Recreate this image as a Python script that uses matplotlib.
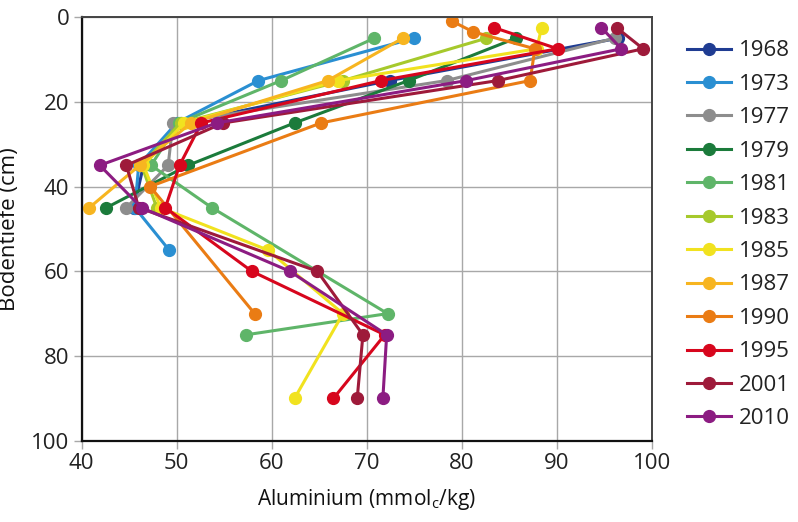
import matplotlib
matplotlib.use("Agg")
import matplotlib.pyplot as plt

plt.rcParams['font.family'] = ['Open Sans', 'DejaVu Sans']

years = ["1968", "1973", "1977", "1979", "1981", "1983",
         "1985", "1987", "1990", "1995", "2001", "2010"]
colors = ["#1f3c92", "#2a8fd2", "#8d8d8d", "#1b7b3b", "#5fb569", "#a6c92c",
          "#f1e21f", "#f7b520", "#ea7c14", "#d7061d", "#9e1a3a", "#8c1c82"]

al_1968 = [96.5, 72.4, 50.5, 46.5, 45.5]
d_1968 = [5, 15, 25, 35, 45]
al_1973 = [75.0, 58.6, 50.0, 46.0, 45.6, 49.2]
d_1973 = [5, 15, 25, 35, 45, 55]
al_1977 = [96.1, 78.4, 49.6, 49.1, 44.7]
d_1977 = [5, 15, 25, 35, 45]
al_1979 = [85.7, 74.4, 62.4, 51.2, 42.6]
d_1979 = [5, 15, 25, 35, 45]
al_1981 = [70.8, 61.0, 50.2, 47.3, 53.7, 72.2, 57.3]
d_1981 = [5, 15, 25, 35, 45, 70, 75]
al_1983 = [82.6, 67.5, 50.4, 46.3, 47.9]
d_1983 = [5, 15, 25, 35, 45]
al_1985 = [88.4, 87.9, 67.0, 50.8, 46.5, 48.3, 59.6, 67.5, 62.4]
d_1985 = [2.5, 7.5, 15, 25, 35, 45, 55, 70, 90]
al_1987 = [73.8, 65.9, 51.5, 46.1, 40.8]
d_1987 = [5, 15, 25, 35, 45]
al_1990 = [79.0, 81.2, 87.7, 87.2, 65.2, 47.2, 58.2]
d_1990 = [1, 3.5, 7.5, 15, 25, 40, 70]
al_1995 = [83.4, 90.1, 71.5, 52.6, 50.3, 48.8, 57.9, 71.9, 66.5]
d_1995 = [2.5, 7.5, 15, 25, 35, 45, 60, 75, 90]
al_2001 = [96.3, 99.1, 83.8, 54.9, 44.7, 46.0, 64.8, 69.6, 69.0]
d_2001 = [2.5, 7.5, 15, 25, 35, 45, 60, 75, 90]
al_2010 = [94.7, 96.8, 80.5, 54.2, 41.9, 46.3, 61.9, 72.1, 71.7]
d_2010 = [2.5, 7.5, 15, 25, 35, 45, 60, 75, 90]

series = [(al_1968, d_1968), (al_1973, d_1973), (al_1977, d_1977),
          (al_1979, d_1979), (al_1981, d_1981), (al_1983, d_1983),
          (al_1985, d_1985), (al_1987, d_1987), (al_1990, d_1990),
          (al_1995, d_1995), (al_2001, d_2001), (al_2010, d_2010)]

xticks = [40, 50, 60, 70, 80, 90, 100]
yticks = [0, 20, 40, 60, 80, 100]

fig = plt.figure(figsize=(7.98, 5.22), dpi=100)
ax = fig.add_axes([0.1024, 0.1557, 0.7143, 0.8117])

for (x, d), yr, c in zip(series, years, colors):
    ax.plot(x, d, color=c, lw=2.2, marker='o', markersize=8.5, label=yr,
            solid_joinstyle='round')

ax.set_xlim(40, 100)
ax.set_ylim(100, 0)
ax.set_xticks(xticks)
ax.set_yticks(yticks)
ax.grid(True, color='#a8a8a8', lw=1.0)
ax.set_axisbelow(True)
ax.tick_params(direction='out', length=6, width=1.0, color='#a8a8a8',
               labelsize=16, labelcolor='#222222', pad=3)
for s in ['left', 'bottom']:
    ax.spines[s].set_color('#111111')
    ax.spines[s].set_linewidth(1.6)
for s in ['top', 'right']:
    ax.spines[s].set_color('#444444')
    ax.spines[s].set_linewidth(1.4)

ax.set_xlabel('Aluminium (mmol$_\\mathregular{c}$/kg)', fontsize=15,
              color='#111111', labelpad=9)
ax.set_ylabel('Bodentiefe (cm)', fontsize=16, color='#111111', labelpad=8)

leg = ax.legend(loc='upper left', bbox_to_anchor=(1.047, 0.966), frameon=False,
                fontsize=16, handlelength=1.95, handletextpad=0.36,
                labelspacing=0.56, borderaxespad=0)
for t in leg.get_texts():
    t.set_color('#222222')

fig.savefig('out.png', dpi=100)
